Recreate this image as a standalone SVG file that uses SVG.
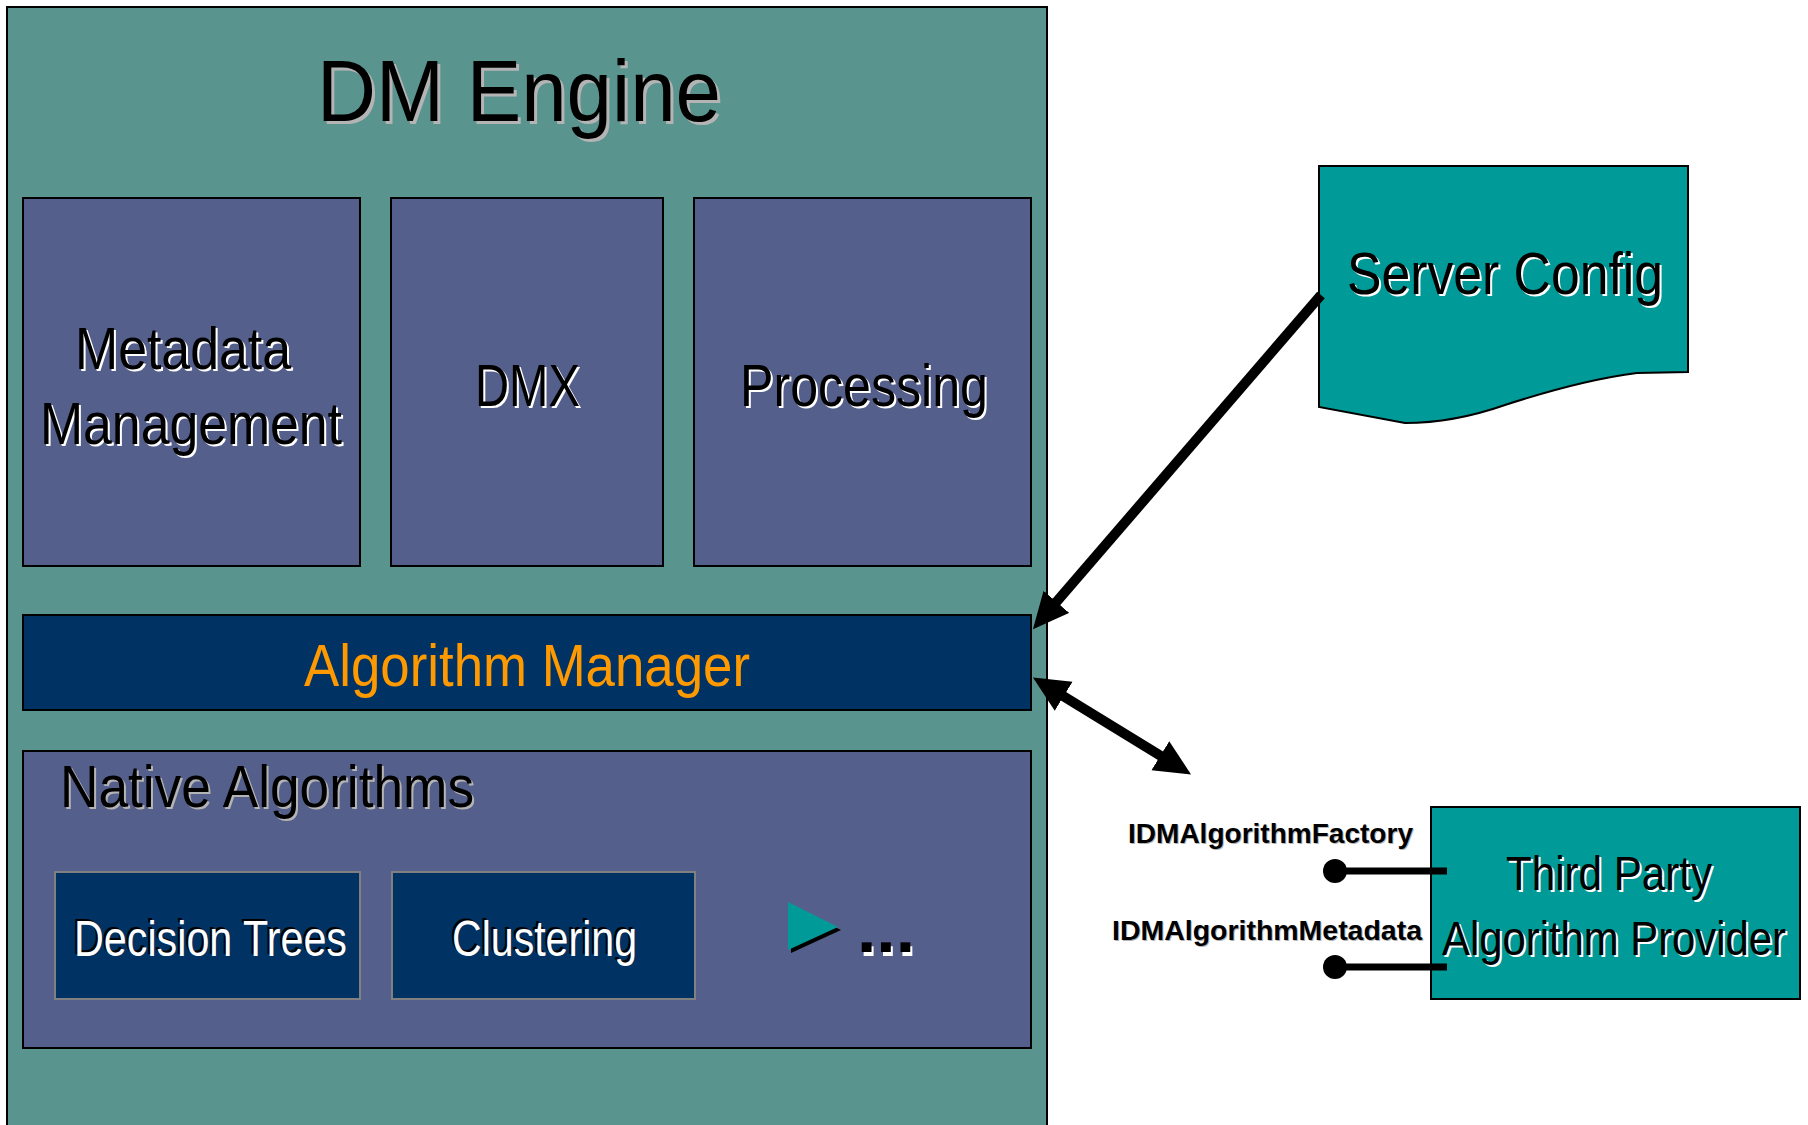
<svg xmlns="http://www.w3.org/2000/svg" width="1808" height="1125" viewBox="0 0 1808 1125">
<style>
text{font-family:"Liberation Sans",Arial,sans-serif}
.box{fill:#555f8b;stroke:#000;stroke-width:2}
.navy{fill:#003264;stroke:#000;stroke-width:2}
.inner{fill:#003264;stroke:#808080;stroke-width:2}
.teal{fill:#009b98;stroke:#000;stroke-width:2}
.blk{fill:#000}
.wsh{fill:#fff}
.gsh{fill:#b4b4b4}
.wt{fill:#fff}
.lbl{font-weight:bold;font-size:28px}
.conn{stroke:#000;stroke-width:10;fill:none}
.pin{stroke:#000;stroke-width:7}
</style>
<defs>
<marker id="ah" markerUnits="userSpaceOnUse" markerWidth="40" markerHeight="36" refX="16" refY="17" orient="auto-start-reverse" viewBox="0 0 40 36">
<path d="M0,0 L36,17 L0,34 z" fill="#000"/>
</marker>
</defs>
<rect width="1808" height="1125" fill="#fff"/>

<g id="dm-engine">
<rect x="7" y="7" width="1040" height="1130" fill="#5a948f" stroke="#000" stroke-width="2"/>
<text x="320" y="124" font-size="88" textLength="404" lengthAdjust="spacingAndGlyphs" class="gsh">DM Engine</text>
<text x="317" y="121" font-size="88" textLength="404" lengthAdjust="spacingAndGlyphs" class="blk">DM Engine</text>
</g>

<g id="metadata-management">
<rect class="box" x="23" y="198" width="337" height="368"/>
<text x="77" y="371" font-size="60" textLength="216" lengthAdjust="spacingAndGlyphs" class="wsh">Metadata</text>
<text x="75" y="369" font-size="60" textLength="216" lengthAdjust="spacingAndGlyphs" class="blk">Metadata</text>
<text x="42" y="446" font-size="60" textLength="302" lengthAdjust="spacingAndGlyphs" class="wsh">Management</text>
<text x="40" y="444" font-size="60" textLength="302" lengthAdjust="spacingAndGlyphs" class="blk">Management</text>
</g>

<g id="dmx">
<rect class="box" x="391" y="198" width="272" height="368"/>
<text x="477" y="408" font-size="60" textLength="105" lengthAdjust="spacingAndGlyphs" class="wsh">DMX</text>
<text x="475" y="406" font-size="60" textLength="105" lengthAdjust="spacingAndGlyphs" class="blk">DMX</text>
</g>

<g id="processing">
<rect class="box" x="694" y="198" width="337" height="368"/>
<text x="742" y="408" font-size="60" textLength="248" lengthAdjust="spacingAndGlyphs" class="wsh">Processing</text>
<text x="740" y="406" font-size="60" textLength="248" lengthAdjust="spacingAndGlyphs" class="blk">Processing</text>
</g>

<g id="algorithm-manager">
<rect class="navy" x="23" y="615" width="1008" height="95"/>
<text x="304" y="686" font-size="60" textLength="446" lengthAdjust="spacingAndGlyphs" fill="#ff9900">Algorithm Manager</text>
</g>

<g id="native-algorithms">
<rect class="box" x="23" y="751" width="1008" height="297"/>
<text x="62" y="809" font-size="60" textLength="414" lengthAdjust="spacingAndGlyphs" class="gsh">Native Algorithms</text>
<text x="60" y="807" font-size="60" textLength="414" lengthAdjust="spacingAndGlyphs" class="blk">Native Algorithms</text>
</g>

<g id="decision-trees">
<rect class="inner" x="55" y="872" width="305" height="127"/>
<text x="72" y="954" font-size="50" textLength="273" lengthAdjust="spacingAndGlyphs" class="blk">Decision Trees</text>
<text x="74" y="956" font-size="50" textLength="273" lengthAdjust="spacingAndGlyphs" class="wt">Decision Trees</text>
</g>

<g id="clustering">
<rect class="inner" x="392" y="872" width="303" height="127"/>
<text x="450" y="954" font-size="50" textLength="185" lengthAdjust="spacingAndGlyphs" class="blk">Clustering</text>
<text x="452" y="956" font-size="50" textLength="185" lengthAdjust="spacingAndGlyphs" class="wt">Clustering</text>
</g>

<g id="more">
<polygon points="791,905 841,930 791,953" fill="#000"/>
<polygon points="788,902 838,927 788,950" fill="#009b98"/>
<text x="859" y="956" font-size="64" font-weight="bold" textLength="58" lengthAdjust="spacingAndGlyphs" class="wsh">...</text>
<text x="857" y="952" font-size="64" font-weight="bold" textLength="58" lengthAdjust="spacingAndGlyphs" class="blk">...</text>
</g>

<g id="server-config">
<path class="teal" d="M1319,166 H1688 V372 L1637,373 C1590,379 1545,392 1505,405 C1465,419 1435,423 1405,423 L1319,407 Z"/>
<text x="1349" y="296" font-size="60" textLength="316" lengthAdjust="spacingAndGlyphs" class="wsh">Server Config</text>
<text x="1347" y="294" font-size="60" textLength="316" lengthAdjust="spacingAndGlyphs" class="blk">Server Config</text>
</g>

<g id="third-party-provider">
<rect class="teal" x="1431" y="807" width="369" height="192"/>
<text x="1508" y="892" font-size="48" textLength="206" lengthAdjust="spacingAndGlyphs" class="wsh">Third Party</text>
<text x="1506" y="890" font-size="48" textLength="206" lengthAdjust="spacingAndGlyphs" class="blk">Third Party</text>
<text x="1444" y="957" font-size="48" textLength="344" lengthAdjust="spacingAndGlyphs" class="wsh">Algorithm Provider</text>
<text x="1442" y="955" font-size="48" textLength="344" lengthAdjust="spacingAndGlyphs" class="blk">Algorithm Provider</text>
</g>

<g id="interfaces">
<line class="pin" x1="1335" y1="871" x2="1447" y2="871"/>
<circle cx="1335" cy="871" r="12" fill="#000"/>
<line class="pin" x1="1335" y1="967" x2="1447" y2="967"/>
<circle cx="1335" cy="967" r="12" fill="#000"/>
<text x="1129" y="844" textLength="285" lengthAdjust="spacingAndGlyphs" class="lbl gsh">IDMAlgorithmFactory</text>
<text x="1128" y="843" textLength="285" lengthAdjust="spacingAndGlyphs" class="lbl blk">IDMAlgorithmFactory</text>
<text x="1113" y="941" textLength="310" lengthAdjust="spacingAndGlyphs" class="lbl gsh">IDMAlgorithmMetadata</text>
<text x="1112" y="940" textLength="310" lengthAdjust="spacingAndGlyphs" class="lbl blk">IDMAlgorithmMetadata</text>
</g>

<g id="connectors">
<line class="conn" x1="1321" y1="295" x2="1046" y2="614" marker-end="url(#ah)"/>
<line class="conn" x1="1050" y1="688" x2="1174" y2="764" marker-start="url(#ah)" marker-end="url(#ah)"/>
</g>
</svg>
